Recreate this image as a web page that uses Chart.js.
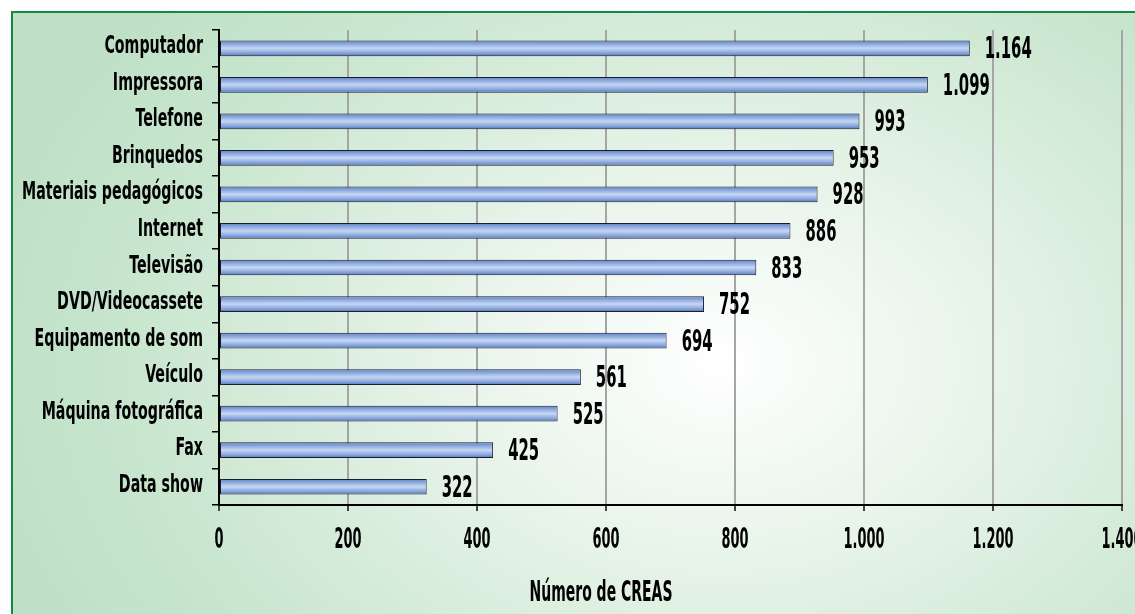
<!DOCTYPE html>
<html>
<head>
<meta charset="utf-8">
<script src="https://cdn.jsdelivr.net/npm/chart.js@4.4.1/dist/chart.umd.min.js"></script>
<style>
  html, body { margin: 0; padding: 0; background: #fff; }
  #wrap { position: relative; width: 1135px; height: 614px; overflow: hidden; }
  #frame {
    position: absolute; left: 11px; top: 11px; width: 1200px; height: 700px;
    border-left: 2px solid #17864a; border-top: 2px solid #17864a;
    background: radial-gradient(ellipse 62% 78% at 59% 50%, #ffffff 0%, #e6f3e8 38%, #c9e6cf 78%, #bfe0c7 100%);
  }
  #chart { position: absolute; left: 0; top: 0; }
</style>
</head>
<body>
<div id="wrap">
  <div id="frame"></div>
  <canvas id="chart" width="1135" height="614"></canvas>
</div>
<script>
const categories = ['Computador', 'Impressora', 'Telefone', 'Brinquedos', 'Materiais pedagógicos',
  'Internet', 'Televisão', 'DVD/Videocassete', 'Equipamento de som', 'Veículo',
  'Máquina fotográfica', 'Fax', 'Data show'];
const creasCount = [1164, 1099, 993, 953, 928, 886, 833, 752, 694, 561, 525, 425, 322];
const xTicks = [0, 200, 400, 600, 800, 1000, 1200, 1400];
const axisTitle = 'Número de CREAS';

const FONT = '"DejaVu Sans", sans-serif';
const BAR_PCT = 0.43;

function fmt(n) {
    return String(n).replace(/\B(?=(\d{3})+(?!\d))/g, '.');
}

// the original uses a very narrow display face: squeeze DejaVu horizontally
function squeeze(ctx, size, sample, target) {
    ctx.font = 'bold ' + size + 'px ' + FONT;
    return target / ctx.measureText(sample).width;
}
function drawText(ctx, text, x, y, size, sx, align) {
    ctx.save();
    ctx.font = 'bold ' + size + 'px ' + FONT;
    ctx.fillStyle = '#000';
    ctx.textAlign = align;
    ctx.textBaseline = 'alphabetic';
    ctx.translate(x, y);
    ctx.scale(sx, 1);
    ctx.fillText(text, 0, 0);
    ctx.restore();
}

function barFill(context) {
    const chart = context.chart;
    if (!chart.chartArea || context.dataIndex === undefined) return '#8eaae0';
    const y = chart.scales.y;
    const band = y.height / categories.length;
    const h = band * BAR_PCT;
    const c = y.getPixelForValue(context.dataIndex);
    const g = chart.ctx.createLinearGradient(0, c - h / 2, 0, c + h / 2);
    g.addColorStop(0, '#5f80c2');
    g.addColorStop(0.2, '#86a4dc');
    g.addColorStop(0.5, '#c6d7f3');
    g.addColorStop(0.8, '#86a4dc');
    g.addColorStop(1, '#5473b6');
    return g;
}

const textLayer = {
    id: 'textLayer',
    afterDraw(chart) {
        const ctx = chart.ctx;
        const xs = chart.scales.x, ys = chart.scales.y;

        // category labels
        const sy = squeeze(ctx, 25, 'Materiais pedagógicos', 181);
        categories.forEach((c, i) => {
            drawText(ctx, c, ys.right - 16, ys.getPixelForTick(i) + 5, 25, sy, 'right');
        });

        // x tick labels
        const sxT = squeeze(ctx, 29, '800', 27);
        xTicks.forEach(v => {
            drawText(ctx, fmt(v), xs.getPixelForValue(v), 548, 29, sxT, 'center');
        });

        // value labels
        const sv = squeeze(ctx, 30, '886', 31);
        chart.getDatasetMeta(0).data.forEach((bar, i) => {
            drawText(ctx, fmt(creasCount[i]), bar.x + 15, bar.y + 10, 30, sv, 'left');
        });

        // axis title
        const st = squeeze(ctx, 29, axisTitle, 143);
        drawText(ctx, axisTitle, 601, 601, 29, st, 'center');
    }
};

const ctx = document.getElementById('chart').getContext('2d');
new Chart(ctx, {
    type: 'bar',
    data: {
        labels: categories,
        datasets: [{
            label: axisTitle,
            data: creasCount,
            backgroundColor: barFill,
            borderColor: '#1c1c2c',
            borderWidth: 1,
            borderSkipped: false,
            categoryPercentage: 1,
            barPercentage: BAR_PCT
        }]
    },
    options: {
        indexAxis: 'y',
        responsive: false,
        animation: false,
        layout: { padding: { top: 30, right: 13, bottom: 0, left: 0 } },
        plugins: {
            legend: { display: false },
            tooltip: { enabled: false }
        },
        scales: {
            x: {
                min: 0,
                max: 1400,
                afterBuildTicks: scale => { scale.ticks = xTicks.map(v => ({ value: v })); },
                afterFit: scale => { scale.height = 109; scale.paddingRight = 0; scale.paddingLeft = 0; },
                border: { color: '#000', width: 2 },
                grid: { color: '#a5a5a5', lineWidth: 2, tickLength: 6, tickColor: '#444' },
                ticks: { display: false }
            },
            y: {
                afterFit: scale => { scale.width = 219; },
                border: { color: '#000', width: 2 },
                grid: { drawOnChartArea: false, tickLength: 7, tickColor: '#000', lineWidth: 1.5 },
                ticks: { display: false, autoSkip: false }
            }
        }
    },
    plugins: [textLayer]
});
</script>
</body>
</html>
